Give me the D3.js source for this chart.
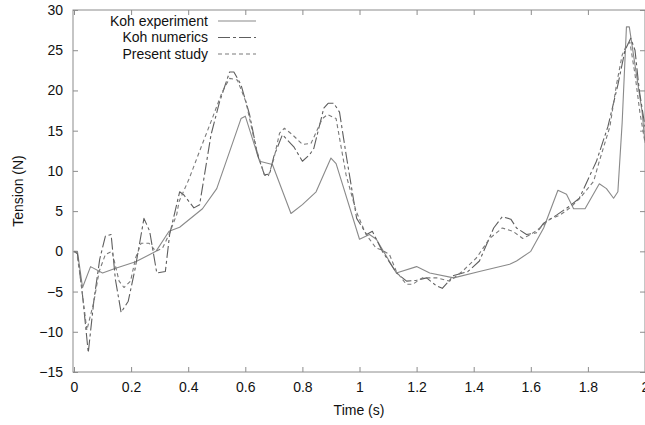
<!DOCTYPE html>
<html>
<head>
<meta charset="utf-8">
<script src="https://cdn.jsdelivr.net/npm/d3@7"></script>
<style>
  html, body { margin: 0; padding: 0; background: #fff; }
  svg { display: block; }
  text { font-family: "Liberation Sans", Arial, Helvetica, sans-serif; fill: #111; }
</style>
</head>
<body>
<svg id="chart" width="645" height="425"></svg>
<script>
// Mooring line tension over time: experiment, reference numerics and present model
const seriesNames = ["Koh experiment", "Koh numerics", "Present study"];

const expTime = [0, 0.012, 0.03, 0.058, 0.1, 0.146, 0.216, 0.287, 0.333, 0.37, 0.45, 0.5, 0.545, 0.585, 0.6, 0.65, 0.695,
  0.76, 0.8, 0.848, 0.9, 0.918, 1.0, 1.035, 1.059, 1.129, 1.2, 1.246, 1.33, 1.42, 1.526, 1.55, 1.6, 1.645, 1.695, 1.725,
  1.75, 1.79, 1.84, 1.865, 1.89, 1.905, 1.92, 1.935, 1.945, 1.97, 1.99, 2.0];
const expValue = [0, 0, -4.5, -1.9, -2.7, -2.1, -1.3, 0, 2.5, 3.0, 5.3, 7.8, 12.4, 16.5, 16.8, 11.2, 10.8,
  4.7, 5.8, 7.4, 11.6, 10.9, 1.5, 2.1, 1.5, -2.7, -1.9, -2.7, -3.3, -2.5, -1.6, -1.2, 0, 2.9, 7.6, 7.1,
  5.3, 5.3, 8.4, 7.8, 6.6, 7.4, 16, 27.9, 27.9, 22, 17.3, 13.5];

const numTime = [0, 0.012, 0.03, 0.05, 0.07, 0.09, 0.11, 0.13, 0.145, 0.165, 0.19, 0.215, 0.245, 0.265, 0.29, 0.32, 0.335,
  0.37, 0.385, 0.42, 0.44, 0.48, 0.51, 0.545, 0.56, 0.585, 0.615, 0.643, 0.667, 0.685, 0.7, 0.73, 0.77, 0.8, 0.825, 0.84,
  0.875, 0.89, 0.91, 0.93, 0.955, 0.99, 1.025, 1.045, 1.08, 1.13, 1.165, 1.2, 1.235, 1.27, 1.29, 1.33, 1.38, 1.42, 1.47,
  1.5, 1.53, 1.55, 1.585, 1.62, 1.645, 1.69, 1.735, 1.77, 1.83, 1.87, 1.905, 1.93, 1.95, 1.965, 1.98, 2.0];
const numValue = [0, -0.3, -5.5, -12.6, -6, -1, 1.9, 2.1, -3.5, -7.6, -6.2, -2, 4.1, 2.5, -2.7, -2.5, 2.1,
  7.4, 7.0, 5.4, 5.8, 14.5, 18.6, 22.3, 22.3, 20.7, 17, 12, 9.5, 9.6, 11.8, 14.5, 13.0, 11.2, 12.0, 12.8,
  17.8, 18.4, 18.4, 17.3, 11.6, 4.1, 2.1, 2.5, 0, -2.7, -3.7, -3.6, -3.3, -4.3, -4.6, -3.0, -2.5, -1.2, 2.9,
  4.3, 4.0, 2.9, 2.1, 2.3, 3.5, 4.5, 5.6, 6.6, 11.2, 15.5, 20.7, 25.0, 26.5, 25, 20, 15.5];

const presTime = [0, 0.01, 0.024, 0.045, 0.07, 0.088, 0.11, 0.133, 0.158, 0.175, 0.198, 0.216, 0.235, 0.263, 0.287, 0.31,
  0.333, 0.36, 0.368, 0.403, 0.449, 0.484, 0.519, 0.545, 0.572, 0.602, 0.638, 0.667, 0.68, 0.7, 0.72, 0.737, 0.765, 0.8,
  0.83, 0.87, 0.888, 0.918, 0.953, 0.988, 1.023, 1.058, 1.076, 1.105, 1.129, 1.164, 1.186, 1.22, 1.27, 1.316, 1.36, 1.41,
  1.456, 1.5, 1.537, 1.572, 1.6, 1.632, 1.667, 1.702, 1.737, 1.772, 1.82, 1.84, 1.877, 1.9, 1.92, 1.935, 1.947, 1.965,
  1.982, 2.0];
const presValue = [0, -0.2, -3.7, -9.8, -6.2, -2.5, -0.4, 0, -3.7, -4.5, -3.7, -0.8, 1, 1, 0, 0.4,
  2.1, 4.6, 6.2, 9, 13.3, 16.5, 19.8, 21.5, 21.3, 18.6, 12.8, 9.5, 9.3, 11.5, 14.7, 15.3, 14.5, 13.3,
  13.4, 16.5, 17, 16.5, 9.5, 5, 2.1, 0.4, 0.2, -0.4, -2.5, -4.1, -4.1, -3.3, -3.3, -3.7, -2.5, -0.8,
  1.6, 2.9, 2.5, 1.6, 2.1, 2.9, 4, 4.5, 5.4, 6.6, 8.7, 11.2, 15.5, 20.7, 24.4, 25.6, 26, 22,
  17.3, 13.5];

const xTicks = [0, 0.2, 0.4, 0.6, 0.8, 1, 1.2, 1.4, 1.6, 1.8, 2];
const yTicks = [-15, -10, -5, 0, 5, 10, 15, 20, 25, 30];

const series = [
  { name: seriesNames[0], t: expTime, v: expValue, color: "#8a8a8a", dash: null, width: 1.1 },
  { name: seriesNames[1], t: numTime, v: numValue, color: "#5e5e5e", dash: "12,3,3,3", width: 1.1 },
  { name: seriesNames[2], t: presTime, v: presValue, color: "#7a7a7a", dash: "4,3", width: 1.1 }
];

const svg = d3.select("#chart");
const plotLeft = 73, plotRight = 645, plotTop = 10, plotBottom = 372;

const x = d3.scaleLinear().domain([0, 2]).range([plotLeft + 1, plotRight]);
const y = d3.scaleLinear().domain([-15, 30]).range([plotBottom, plotTop]);

const borderColor = "#8c8c8c";
const tickLen = 5;

// Frame
svg.append("rect")
  .attr("x", plotLeft).attr("y", plotTop)
  .attr("width", plotRight - plotLeft).attr("height", plotBottom - plotTop)
  .attr("fill", "none").attr("stroke", borderColor).attr("stroke-width", 1);

// Axes with inward ticks, mirrored on the opposite sides
const gxb = svg.append("g").attr("transform", `translate(0,${plotBottom})`)
  .call(d3.axisBottom(x).tickValues(xTicks).tickSize(-tickLen).tickPadding(10).tickFormat(d3.format("")));
const gxt = svg.append("g").attr("transform", `translate(0,${plotTop})`)
  .call(d3.axisTop(x).tickValues(xTicks).tickSize(-tickLen).tickFormat(""));
const gyl = svg.append("g").attr("transform", `translate(${plotLeft},0)`)
  .call(d3.axisLeft(y).tickValues(yTicks).tickSize(-tickLen).tickPadding(10));
const gyr = svg.append("g").attr("transform", `translate(${plotRight},0)`)
  .call(d3.axisRight(y).tickValues(yTicks).tickSize(-tickLen).tickFormat(""));

[gxb, gxt, gyl, gyr].forEach(g => {
  g.select(".domain").remove();
  g.selectAll(".tick line").attr("stroke", borderColor);
  g.selectAll("text").attr("font-size", 14).attr("font-family", "'Liberation Sans', Arial, sans-serif").attr("fill", "#111");
});

// Axis titles
svg.append("text")
  .attr("x", (plotLeft + plotRight) / 2)
  .attr("y", 415)
  .attr("text-anchor", "middle")
  .attr("font-size", 14)
  .text("Time (s)");

svg.append("text")
  .attr("transform", `translate(23,${(plotTop + plotBottom) / 2}) rotate(-90)`)
  .attr("text-anchor", "middle")
  .attr("font-size", 14)
  .text("Tension (N)");

// Curves
svg.append("clipPath").attr("id", "plotclip")
  .append("rect").attr("x", plotLeft).attr("y", plotTop)
  .attr("width", plotRight - plotLeft).attr("height", plotBottom - plotTop);

const line = d3.line().x(d => x(d[0])).y(d => y(d[1]));

const plot = svg.append("g").attr("clip-path", "url(#plotclip)");
series.forEach(s => {
  const pts = s.t.map((t, i) => [t, s.v[i]]);
  plot.append("path")
    .datum(pts)
    .attr("d", line)
    .attr("fill", "none")
    .attr("stroke", s.color)
    .attr("stroke-width", s.width)
    .attr("stroke-dasharray", s.dash)
    .attr("stroke-linejoin", "round");
});

// Legend
const legend = svg.append("g");
const legendRows = [21, 37.5, 54];
series.forEach((s, i) => {
  legend.append("text")
    .attr("x", 208).attr("y", legendRows[i])
    .attr("dy", "0.35em")
    .attr("text-anchor", "end")
    .attr("font-size", 14)
    .text(s.name);
  legend.append("line")
    .attr("x1", 218).attr("x2", 256)
    .attr("y1", legendRows[i]).attr("y2", legendRows[i])
    .attr("stroke", s.color)
    .attr("stroke-width", s.width)
    .attr("stroke-dasharray", s.dash);
});
</script>
</body>
</html>
